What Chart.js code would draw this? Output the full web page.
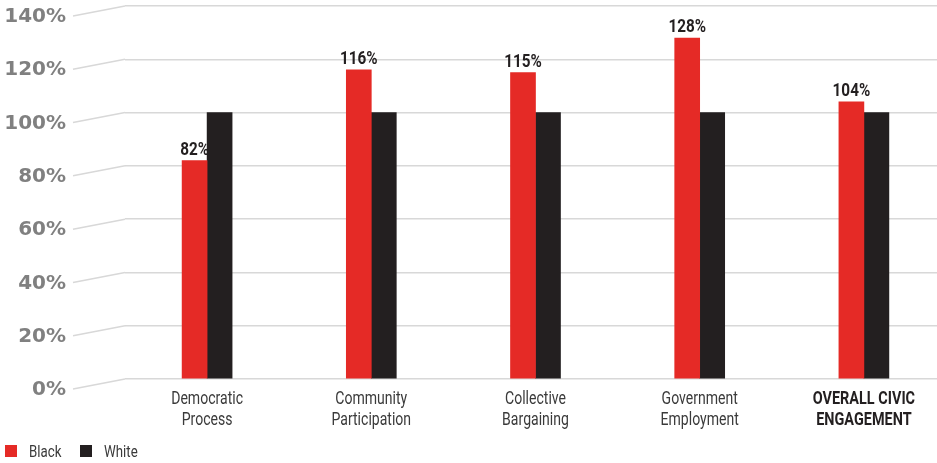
<!DOCTYPE html>
<html>
<head>
<meta charset="utf-8">
<script src="https://cdn.jsdelivr.net/npm/chart.js@4.4.1/dist/chart.umd.min.js"></script>
<style>
  html, body { margin: 0; padding: 0; background: #fff; overflow: hidden; }
  #wrap { position: relative; width: 946px; height: 463px; }
</style>
</head>
<body>
<div id="wrap"><canvas id="civic"></canvas></div>
<script>
  // ===== Data =====
  const categories = [
    ['Democratic', 'Process'],
    ['Community', 'Participation'],
    ['Collective', 'Bargaining'],
    ['Government', 'Employment'],
    ['OVERALL CIVIC', 'ENGAGEMENT']
  ];
  const blackValues = [82, 116, 115, 128, 104];
  const whiteValues = [100, 100, 100, 100, 100];
  const yTicks      = [0, 20, 40, 60, 80, 100, 120, 140];
  const seriesNames = ['Black', 'White'];

  // ===== Styles =====
  const RED   = '#e52a26';
  const DARK  = '#231f20';
  const GREY_TEXT = '#3a3a3a';
  const GRID  = '#d8d8d8';
  const FACE  = 'Roboto, "Liberation Sans", sans-serif';

  // condensed text: squeeze the glyphs horizontally around the anchor
  function squeezeText(ctx, text, x, y, sx) {
    ctx.save();
    ctx.translate(x, y);
    ctx.scale(sx, 1);
    ctx.fillText(text, 0, 0);
    ctx.restore();
  }

  // y labels sit in front of the plot, joined to the gridlines by a slanted stub
  const sideAxis = {
    id: 'sideAxis',
    afterDraw(chart) {
      const { ctx, scales: { y }, chartArea } = chart;
      ctx.save();
      ctx.font = 'bold 20px "DejaVu Sans", sans-serif';
      ctx.fillStyle = '#808080';
      ctx.textAlign = 'right';
      ctx.textBaseline = 'middle';
      ctx.strokeStyle = GRID;
      ctx.lineWidth = 1.5;
      yTicks.forEach(v => {
        const py = y.getPixelForValue(v);
        ctx.fillText(v + '%', 66, py + 11);
        ctx.beginPath();
        ctx.moveTo(73, py + 10);
        ctx.lineTo(chartArea.left, py);
        ctx.stroke();
      });
      ctx.restore();
    }
  };

  // two-line category names under each group
  const categoryLabels = {
    id: 'categoryLabels',
    afterDraw(chart) {
      const { ctx, scales: { x }, chartArea } = chart;
      ctx.save();
      ctx.textAlign = 'center';
      ctx.textBaseline = 'alphabetic';
      categories.forEach((lines, i) => {
        const cx = x.getPixelForValue(i);
        const last = i === categories.length - 1;
        ctx.font = last ? 'bold 19px ' + FACE : '18px ' + FACE;
        ctx.fillStyle = last ? DARK : GREY_TEXT;
        lines.forEach((line, k) => {
          squeezeText(ctx, line, cx, chartArea.bottom + 25 + k * 21, last ? 0.76 : 0.78);
        });
      });
      ctx.restore();
    }
  };

  // percentage labels over the red bars
  const barLabels = {
    id: 'barLabels',
    afterDatasetsDraw(chart) {
      const { ctx } = chart;
      const meta = chart.getDatasetMeta(0);
      ctx.save();
      ctx.font = 'bold 18px ' + FACE;
      ctx.fillStyle = DARK;
      ctx.textAlign = 'center';
      ctx.textBaseline = 'alphabetic';
      meta.data.forEach((bar, i) => {
        squeezeText(ctx, blackValues[i] + '%', bar.x, bar.y - 6, 0.85);
      });
      ctx.restore();
    }
  };

  // legend in the lower left corner
  const cornerLegend = {
    id: 'cornerLegend',
    afterDraw(chart) {
      const { ctx } = chart;
      const colors = [RED, DARK];
      ctx.save();
      ctx.font = '17px ' + FACE;
      ctx.textAlign = 'left';
      ctx.textBaseline = 'alphabetic';
      seriesNames.forEach((label, i) => {
        const x = 5 + i * 75;
        ctx.fillStyle = colors[i];
        ctx.fillRect(x, 445, 12, 12);
        ctx.fillStyle = GREY_TEXT;
        squeezeText(ctx, label, x + 24, 457, 0.78);
      });
      ctx.restore();
    }
  };

  new Chart(document.getElementById('civic'), {
    type: 'bar',
    data: {
      labels: categories.map(c => c.join(' ')),
      datasets: [
        { label: seriesNames[0], data: blackValues, backgroundColor: RED, barThickness: 25 },
        { label: seriesNames[1], data: whiteValues, backgroundColor: DARK, barThickness: 25 }
      ]
    },
    options: {
      responsive: true,
      maintainAspectRatio: false,
      animation: false,
      layout: { padding: { left: 125, top: 6, right: 0, bottom: 84 } },
      plugins: {
        legend: { display: false },
        tooltip: { enabled: false }
      },
      scales: {
        x: { display: false },
        y: {
          min: 0,
          max: 140,
          afterBuildTicks: axis => { axis.ticks = yTicks.map(v => ({ value: v })); },
          grid: { color: GRID, lineWidth: 1.5, drawTicks: false },
          border: { display: false },
          ticks: { display: false }
        }
      }
    },
    plugins: [sideAxis, categoryLabels, barLabels, cornerLegend]
  });
</script>
</body>
</html>
